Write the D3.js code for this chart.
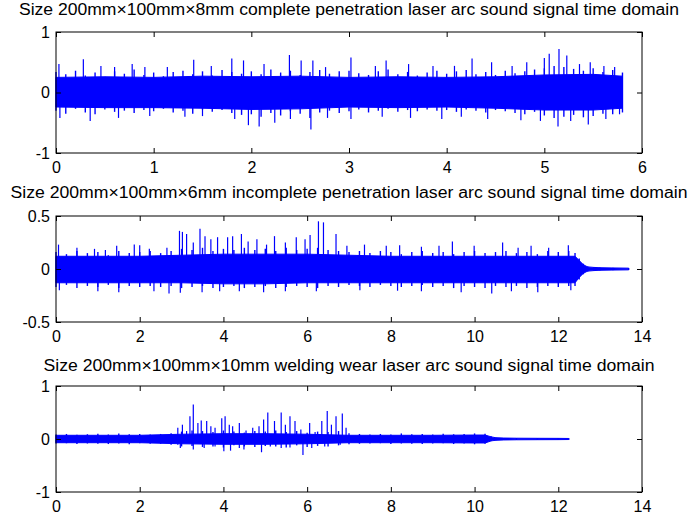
<!DOCTYPE html>
<html>
<head>
<meta charset="utf-8">
<script src="https://cdnjs.cloudflare.com/ajax/libs/d3/7.8.5/d3.min.js"></script>
<style>
  body { margin: 0; background: #fff; }
  text { font-family: "Liberation Sans", Arial, sans-serif; fill: #000; }
</style>
</head>
<body>
<div id="chart"></div>
<script>
// ---------- titles and tick labels ----------
var titles = [
  "Size 200mm\u00d7100mm\u00d78mm complete penetration laser arc sound signal time domain",
  "Size 200mm\u00d7100mm\u00d76mm incomplete penetration laser arc sound signal time domain",
  "Size 200mm\u00d7100mm\u00d710mm welding wear laser arc sound signal time domain"
];
var xTicks1 = [0, 1, 2, 3, 4, 5, 6];
var xTicks23 = [0, 2, 4, 6, 8, 10, 12, 14];
var yTicks1 = [-1, 0, 1];
var yTicks2 = [-0.5, 0, 0.5];
var yTicks3 = [-1, 0, 1];

// ---------- panel 1 ----------
// solid core of the signal
var p1CoreT = [0, 0.5, 1, 1.5, 2, 2.5, 3, 3.5, 4, 4.5, 5, 5.5, 5.8];
var p1CoreTop = [0.25, 0.26, 0.25, 0.27, 0.26, 0.27, 0.25, 0.26, 0.25, 0.26, 0.29, 0.30, 0.27];
var p1CoreBot = [-0.24, -0.25, -0.25, -0.26, -0.28, -0.27, -0.24, -0.25, -0.24, -0.26, -0.29, -0.29, -0.26];
// edge strokes of the signal (peak above / below per step)
var p1Time = [0,0.1,0.2,0.3,0.4,0.5,0.6,0.7,0.8,0.9,1,1.1,1.2,1.3,1.4,1.5,1.6,1.7,1.8,1.9,
  2,2.1,2.2,2.3,2.4,2.5,2.6,2.7,2.8,2.9,3,3.1,3.2,3.3,3.4,3.5,3.6,3.7,3.8,3.9,
  4,4.1,4.2,4.3,4.4,4.5,4.6,4.7,4.8,4.9,5,5.1,5.2,5.3,5.4,5.5,5.6,5.7,5.8];
var p1Top = [0.34,0.30,0.36,0.28,0.33,0.26,0.35,0.31,0.38,0.29,
  0.33,0.27,0.34,0.36,0.30,0.35,0.28,0.37,0.34,0.31,
  0.35,0.30,0.38,0.33,0.36,0.29,0.34,0.37,0.31,0.35,
  0.36,0.32,0.29,0.35,0.38,0.30,0.34,0.28,0.33,0.36,
  0.31,0.35,0.37,0.30,0.34,0.29,0.36,0.32,0.35,0.38,
  0.40,0.44,0.42,0.39,0.36,0.40,0.34,0.37,0.33];
var p1Bot = [-0.30,-0.35,-0.27,-0.33,-0.36,-0.28,-0.32,-0.30,-0.34,-0.29,
  -0.31,-0.27,-0.33,-0.30,-0.35,-0.28,-0.32,-0.29,-0.34,-0.37,
  -0.36,-0.40,-0.34,-0.38,-0.31,-0.35,-0.42,-0.33,-0.30,-0.34,
  -0.31,-0.28,-0.33,-0.30,-0.27,-0.32,-0.29,-0.31,-0.28,-0.30,
  -0.29,-0.32,-0.28,-0.30,-0.33,-0.29,-0.31,-0.34,-0.36,-0.32,
  -0.38,-0.42,-0.40,-0.37,-0.41,-0.39,-0.35,-0.36,-0.33];
// single tall peaks
var p1UpT = [0.03,0.28,0.46,0.6,0.78,0.91,1.14,1.41,1.59,1.8,1.92,2.13,2.39,2.51,2.63,2.76,3.02,
  3.27,3.38,3.61,3.86,4.08,4.26,4.46,4.67,4.82,5.0,5.05,5.15,5.23,5.36,5.47,5.61,5.72];
var p1UpV = [0.47,0.55,0.44,0.42,0.47,0.42,0.42,0.54,0.44,0.56,0.53,0.47,0.62,0.53,0.53,0.42,0.58,
  0.44,0.53,0.47,0.44,0.44,0.56,0.5,0.44,0.5,0.57,0.64,0.72,0.61,0.47,0.5,0.44,0.42];
var p1DownT = [0.04,0.35,0.64,0.96,1.32,1.5,1.83,1.97,2.08,2.24,2.4,2.61,2.78,3.02,3.34,3.63,
  3.95,4.15,4.42,4.76,4.96,5.14,5.27,5.45,5.63,5.77];
var p1DownV = [-0.42,-0.47,-0.42,-0.39,-0.4,-0.39,-0.44,-0.54,-0.56,-0.5,-0.44,-0.61,-0.42,-0.44,-0.4,-0.42,
  -0.44,-0.4,-0.44,-0.46,-0.47,-0.56,-0.47,-0.53,-0.44,-0.36];

// ---------- panel 2 ----------
var p2CoreT = [0, 1, 2, 3, 4, 5, 6, 7, 8, 9, 10, 11, 12, 12.4, 12.5, 12.6, 12.7, 12.85, 13, 13.3, 13.68];
var p2CoreTop = [0.12, 0.12, 0.12, 0.13, 0.14, 0.14, 0.14, 0.13, 0.12, 0.12, 0.12, 0.12, 0.12,
  0.12, 0.08, 0.04, 0.02, 0.015, 0.012, 0.01, 0.008];
var p2CoreBot = [-0.13, -0.13, -0.13, -0.13, -0.14, -0.14, -0.13, -0.13, -0.13, -0.13, -0.13, -0.13, -0.13,
  -0.13, -0.08, -0.04, -0.02, -0.015, -0.012, -0.01, -0.008];
var p2Time = [0,0.25,0.5,0.75,1,1.25,1.5,1.75,2,2.25,2.5,2.75,3,3.25,3.5,3.75,4,4.25,4.5,4.75,
  5,5.25,5.5,5.75,6,6.25,6.5,6.75,7,7.25,7.5,7.75,8,8.25,8.5,8.75,9,9.25,9.5,9.75,
  10,10.25,10.5,10.75,11,11.25,11.5,11.75,12,12.25,12.4,12.5,12.6,12.7,12.85,13,13.3,13.68];
var p2Top = [0.16,0.14,0.17,0.15,0.16,0.13,0.17,0.15,0.16,0.17,
  0.15,0.17,0.19,0.18,0.20,0.17,0.19,0.18,0.20,0.18,
  0.19,0.17,0.20,0.18,0.19,0.20,0.18,0.17,0.16,0.17,
  0.15,0.17,0.16,0.14,0.16,0.17,0.15,0.16,0.14,0.16,
  0.17,0.15,0.16,0.17,0.15,0.16,0.14,0.17,0.16,0.17,
  0.15,0.10,0.05,0.025,0.018,0.015,0.012,0.01];
var p2Bot = [-0.17,-0.15,-0.18,-0.16,-0.17,-0.15,-0.18,-0.16,-0.17,-0.16,
  -0.17,-0.16,-0.18,-0.17,-0.16,-0.18,-0.17,-0.16,-0.18,-0.17,
  -0.16,-0.18,-0.17,-0.16,-0.17,-0.18,-0.16,-0.17,-0.15,-0.16,
  -0.17,-0.15,-0.16,-0.17,-0.16,-0.15,-0.17,-0.16,-0.18,-0.16,
  -0.17,-0.18,-0.16,-0.17,-0.16,-0.18,-0.17,-0.16,-0.17,-0.16,
  -0.16,-0.10,-0.05,-0.025,-0.018,-0.015,-0.012,-0.01];
var p2UpT = [0.06,0.5,0.92,1.18,1.45,1.87,2.0,2.23,2.65,2.95,3.02,3.12,3.28,3.44,3.56,3.7,3.86,
  4.1,4.22,4.43,4.59,4.8,5.03,5.22,5.48,5.74,5.95,6.07,6.27,6.39,6.69,6.95,7.37,7.89,
  8.21,8.73,9.15,9.47,9.99,10.67,11.04,11.35,11.77,12.24];
var p2UpV = [0.23,0.2,0.19,0.18,0.22,0.23,0.225,0.19,0.2,0.36,0.35,0.33,0.25,0.38,0.31,0.28,0.3,
  0.3,0.31,0.33,0.26,0.28,0.23,0.31,0.25,0.3,0.28,0.32,0.45,0.44,0.33,0.22,0.23,0.22,
  0.225,0.21,0.22,0.26,0.22,0.25,0.2,0.22,0.2,0.225];
var p2DownT = [0.08,1.0,1.5,2.34,2.7,2.97,3.49,3.91,4.38,4.96,5.48,6.22,7.26,8.16,8.73,9.68,
  10.41,10.88,11.51,12.3];
var p2DownV = [-0.2,-0.21,-0.22,-0.21,-0.23,-0.225,-0.22,-0.21,-0.21,-0.22,-0.21,-0.21,-0.2,-0.205,-0.21,-0.22,
  -0.23,-0.21,-0.22,-0.2];

// ---------- panel 3 ----------
var p3CoreT = [0, 1, 2, 3, 4, 5, 6, 7, 8, 9, 10, 10.25, 10.4, 10.5, 10.7, 11, 11.5, 12, 12.25];
var p3CoreTop = [0.07, 0.07, 0.07, 0.09, 0.10, 0.10, 0.09, 0.07, 0.07, 0.07, 0.075, 0.075,
  0.04, 0.025, 0.018, 0.015, 0.013, 0.012, 0.01];
var p3CoreBot = [-0.07, -0.07, -0.07, -0.09, -0.10, -0.10, -0.09, -0.07, -0.07, -0.07, -0.075, -0.075,
  -0.035, -0.025, -0.018, -0.015, -0.013, -0.012, -0.01];
var p3Time = [0,0.25,0.5,0.75,1,1.25,1.5,1.75,2,2.25,2.5,2.75,3,3.25,3.5,3.75,4,4.25,4.5,4.75,
  5,5.25,5.5,5.75,6,6.25,6.5,6.75,7,7.25,7.5,7.75,8,8.25,8.5,8.75,9,9.25,9.5,9.75,
  10,10.25,10.4,10.5,10.7,11,11.5,12,12.25];
var p3Top = [0.085,0.095,0.08,0.09,0.10,0.085,0.105,0.09,0.095,0.085,
  0.095,0.11,0.14,0.16,0.15,0.13,0.16,0.14,0.12,0.15,
  0.14,0.16,0.13,0.15,0.12,0.14,0.13,0.15,0.11,0.095,
  0.085,0.095,0.085,0.105,0.09,0.095,0.085,0.10,0.09,0.095,
  0.105,0.10,
  0.05,0.03,0.02,0.018,0.015,0.015,0.012];
var p3Bot = [-0.085,-0.08,-0.095,-0.085,-0.09,-0.095,-0.085,-0.10,-0.08,-0.09,
  -0.09,-0.11,-0.14,-0.13,-0.15,-0.14,-0.16,-0.12,-0.14,-0.15,
  -0.13,-0.14,-0.16,-0.12,-0.15,-0.13,-0.14,-0.12,-0.10,-0.09,
  -0.085,-0.08,-0.095,-0.085,-0.09,-0.095,-0.085,-0.08,-0.095,-0.085,
  -0.10,-0.09,
  -0.04,-0.03,-0.02,-0.018,-0.015,-0.015,-0.012];
var p3UpT = [2.91,3.02,3.12,3.2,3.28,3.39,3.47,3.6,3.7,3.8,3.96,4.04,4.14,4.22,4.38,4.54,4.7,
  4.85,4.96,5.06,5.22,5.38,5.48,5.59,5.71,5.85,6.06,6.19,6.35,6.48,6.58,6.69,6.84,6.93];
var p3UpV = [0.21,0.27,0.15,0.43,0.65,0.3,0.35,0.34,0.24,0.21,0.39,0.43,0.27,0.24,0.3,0.16,0.21,
  0.24,0.37,0.5,0.34,0.5,0.27,0.43,0.34,0.18,0.3,0.13,0.34,0.53,0.27,0.43,0.48,0.21];
var p3DownT = [2.91,2.97,3.28,3.54,3.8,4.01,4.17,4.38,4.49,4.91,5.12,5.38,5.59,5.9,6.11,6.42,6.79];
var p3DownV = [-0.11,-0.17,-0.2,-0.17,-0.14,-0.23,-0.22,-0.17,-0.2,-0.25,-0.14,-0.17,-0.16,-0.3,-0.17,-0.14,-0.11];

// ---------- layout (pixel boxes of the three axes) ----------
var svgW = 689, svgH = 519;
var panels = [
  { title: titles[0], titleY: 15, titleW: 660, left: 56, top: 32, width: 586, height: 121,
    xDomain: [0, 6], xTicks: xTicks1, yDomain: [-1, 1], yTicks: yTicks1,
    coreT: p1CoreT, coreTop: p1CoreTop, coreBot: p1CoreBot,
    time: p1Time, edgeTop: p1Top, edgeBot: p1Bot, upT: p1UpT, upV: p1UpV, downT: p1DownT, downV: p1DownV },
  { title: titles[1], titleY: 198, titleW: 677, left: 56, top: 216, width: 586, height: 106,
    xDomain: [0, 14], xTicks: xTicks23, yDomain: [-0.5, 0.5], yTicks: yTicks2,
    coreT: p2CoreT, coreTop: p2CoreTop, coreBot: p2CoreBot,
    time: p2Time, edgeTop: p2Top, edgeBot: p2Bot, upT: p2UpT, upV: p2UpV, downT: p2DownT, downV: p2DownV },
  { title: titles[2], titleY: 371, titleW: 611, left: 56, top: 386, width: 586, height: 106,
    xDomain: [0, 14], xTicks: xTicks23, yDomain: [-1, 1], yTicks: yTicks3,
    coreT: p3CoreT, coreTop: p3CoreTop, coreBot: p3CoreBot,
    time: p3Time, edgeTop: p3Top, edgeBot: p3Bot, upT: p3UpT, upV: p3UpV, downT: p3DownT, downV: p3DownV }
];

var blue = "#0000ff";

var svg = d3.select("#chart").append("svg")
    .attr("width", svgW)
    .attr("height", svgH);

panels.forEach(drawPanel);

// plain hyphen minus like the original labels
function tickLabel(d) { return String(d); }

function drawPanel(p) {
  var x = d3.scaleLinear().domain(p.xDomain).range([0, p.width]);
  var y = d3.scaleLinear().domain(p.yDomain).range([p.height, 0]);

  // title above the box
  svg.append("text")
      .attr("x", p.left + p.width / 2)
      .attr("y", p.titleY)
      .attr("text-anchor", "middle")
      .attr("font-size", "16px")
      .attr("textLength", p.titleW)
      .attr("lengthAdjust", "spacingAndGlyphs")
      .text(p.title);

  var g = svg.append("g")
      .attr("transform", "translate(" + p.left + "," + p.top + ")");

  // solid core of the waveform
  var area = d3.area()
      .x(function(d, i) { return x(p.coreT[i]); })
      .y0(function(d, i) { return y(p.coreBot[i]); })
      .y1(function(d, i) { return y(p.coreTop[i]); });

  g.append("path")
      .datum(p.coreT)
      .attr("d", area)
      .attr("fill", blue)
      .attr("stroke", blue)
      .attr("stroke-width", 1);

  // edge strokes: one vertical stroke per step from low peak to high peak
  g.selectAll("line.edge")
      .data(p.time)
      .enter().append("line")
      .attr("class", "edge")
      .attr("x1", function(d) { return x(d); })
      .attr("x2", function(d) { return x(d); })
      .attr("y1", function(d, i) { return y(p.edgeBot[i]); })
      .attr("y2", function(d, i) { return y(p.edgeTop[i]); })
      .attr("stroke", blue)
      .attr("stroke-width", 1.4);

  // tall single peaks above and below
  var ups = p.upT.map(function(t, i) { return { t: t, v: p.upV[i] }; });
  var downs = p.downT.map(function(t, i) { return { t: t, v: p.downV[i] }; });

  g.selectAll("line.spike")
      .data(ups.concat(downs))
      .enter().append("line")
      .attr("class", "spike")
      .attr("x1", function(d) { return x(d.t); })
      .attr("x2", function(d) { return x(d.t); })
      .attr("y1", y(0))
      .attr("y2", function(d) { return y(d.v); })
      .attr("stroke", blue)
      .attr("stroke-width", 1.2);

  // axes, ticks pointing inward like matlab
  g.append("g")
      .attr("transform", "translate(0," + p.height + ")")
      .call(d3.axisBottom(x).tickValues(p.xTicks).tickSizeInner(-5).tickSizeOuter(0)
        .tickPadding(9).tickFormat(tickLabel));
  g.append("g")
      .call(d3.axisTop(x).tickValues(p.xTicks).tickSizeInner(-5).tickSizeOuter(0).tickFormat(""));
  g.append("g")
      .call(d3.axisLeft(y).tickValues(p.yTicks).tickSizeInner(-5).tickSizeOuter(0)
        .tickPadding(6).tickFormat(tickLabel));
  g.append("g")
      .attr("transform", "translate(" + p.width + ",0)")
      .call(d3.axisRight(y).tickValues(p.yTicks).tickSizeInner(-5).tickSizeOuter(0).tickFormat(""));

  g.selectAll(".domain").remove();
  g.selectAll(".tick line").attr("stroke", "#000");
  g.selectAll(".tick text")
      .attr("font-size", "16px")
      .attr("font-family", "'Liberation Sans', Arial, sans-serif")
      .attr("fill", "#000");

  // box around the axes
  g.append("rect")
      .attr("x", 0)
      .attr("y", 0)
      .attr("width", p.width)
      .attr("height", p.height)
      .attr("fill", "none")
      .attr("stroke", "#000")
      .attr("stroke-width", 1);
}
</script>
</body>
</html>
